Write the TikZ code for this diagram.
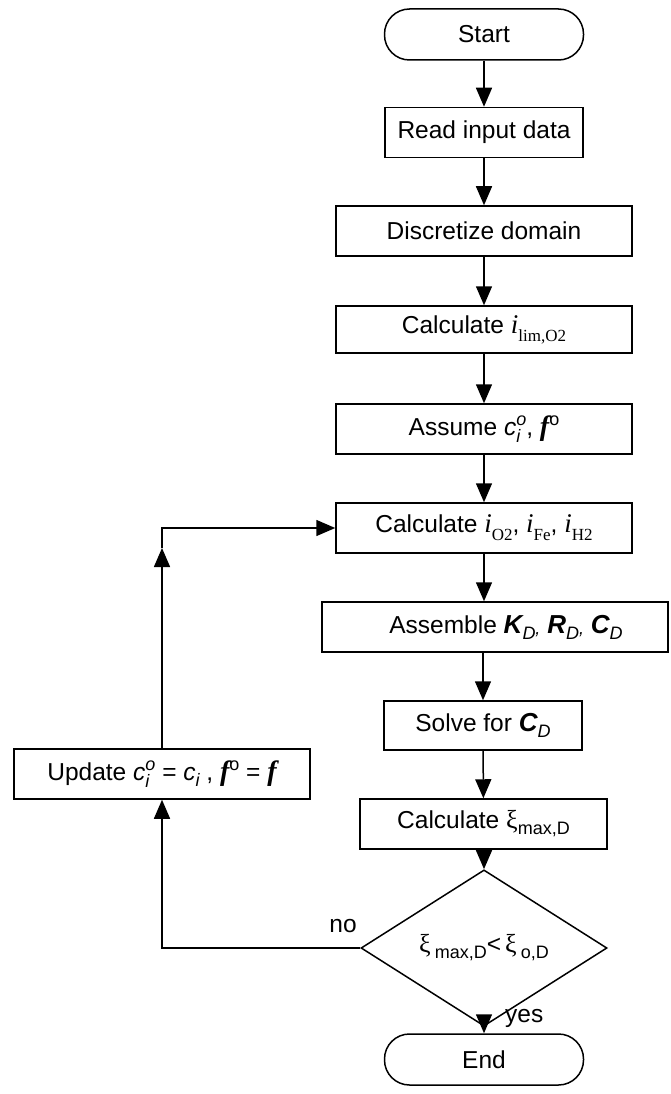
\documentclass[tikz,border=0pt]{standalone}
\usepackage{fontspec}
\setmainfont{Liberation Sans}
\newfontfamily\tms{Liberation Serif}
\usetikzlibrary{shapes.geometric,arrows.meta,calc}
\newcommand{\bi}[1]{{\fontsize{26}{28}\selectfont\bfseries\itshape #1}}
\newcommand{\tmi}[1]{{\fontsize{27}{28}\selectfont\tms\itshape #1}}
\newcommand{\tmbi}[1]{{\fontsize{28}{28}\selectfont\tms\bfseries\itshape #1}}
\newcommand{\sbs}[1]{\raisebox{-6pt}{\fontsize{18}{18}\selectfont #1}}
\newcommand{\sbt}[1]{\raisebox{-8pt}{\fontsize{17}{17}\selectfont\tms #1}}
\newcommand{\sps}[1]{\raisebox{10pt}{\fontsize{18}{18}\selectfont #1}}
\newcommand{\stk}[2]{\rlap{\raisebox{-7pt}{\fontsize{18}{18}\selectfont\itshape #1}}\raisebox{10pt}{\fontsize{18}{18}\selectfont\itshape #2}}
\newcommand{\xii}{{\fontsize{26}{28}\selectfont\tms ξ}}
\begin{document}
\begin{tikzpicture}[x=1pt,y=-1pt,
  box/.style={draw, line width=1.5pt, inner sep=0pt, minimum height=50pt, font=\fontsize{24.5}{28}\selectfont},
  term/.style={box, rounded corners=25pt},
  arr/.style={line width=1.5pt, -{Triangle[length=19pt,width=16pt]}},
  lbl/.style={font=\fontsize{24.5}{28}\selectfont, inner sep=0pt}]
\useasboundingbox (0,0) rectangle (670,1094);
\node[term, minimum width=199pt, minimum height=51pt] (start) at (484,34.5) {Start};
\node[box, minimum width=198pt] (read) at (484,132.5) {Read input data};
\node[box, minimum width=296pt] (disc) at (484,231) {Discretize domain};
\node[box, minimum width=296pt, minimum height=47pt] (lim) at (484,329.5) {Calculate \tmi{i}\sbt{lim,O2}};
\node[box, minimum width=296pt] (assume) at (484,429) {Assume \textit{c}\stk{i}{o}, \tmbi{f}\sps{o}};
\node[box, minimum width=296pt] (io2) at (484,528) {Calculate \tmi{i}\sbt{O2}, \tmi{i}\sbt{Fe}, \tmi{i}\sbt{H2}};
\node[box, minimum width=346pt] (asm) at (495,627) {\hspace*{22pt}Assemble \bi{K}\sbs{\itshape D\raisebox{5pt}{,}} \bi{R}\sbs{\itshape D\raisebox{5pt}{,}} \bi{C}\sbs{\itshape D}};
\node[box, minimum width=198pt, minimum height=49pt] (solve) at (483,725.5) {Solve for \bi{C}\sbs{\itshape D}};
\node[box, minimum width=247pt] (xi) at (483.5,824) {Calculate \xii\sbs{max,D}};
\node[draw, diamond, line width=1.5pt, inner sep=0pt, minimum width=246pt, minimum height=100pt, font=\fontsize{24.5}{28}\selectfont] (dia) at (484,948) {\xii\,\sbs{max,D}<\,\xii\,\sbs{o,D}};
\node[term, minimum width=199pt, minimum height=51pt] (end) at (484,1059.5) {End};
\node[box, minimum width=296pt] (upd) at (162,774) {Update \textit{c}\stk{i}{o} = \textit{c}\sbs{\itshape i} , \tmbi{f}\sps{o} = \tmbi{f}};
\coordinate (c1) at (162,948);
\coordinate (c2) at (162,528);
\coordinate (c2a) at (162,548);
\draw[arr] (start) -- (read);
\draw[arr] (read) -- (disc);
\draw[arr] (disc) -- (lim);
\draw[arr] (lim) -- (assume);
\draw[arr] (assume) -- (io2);
\draw[arr] (io2.south) -- (io2.south |- asm.north);
\draw[arr] (solve.north |- asm.south) -- (solve.north);
\draw[arr] (solve) -- (xi);
\draw[arr] (xi.south -| dia.north) -- (dia.north);
\draw[arr] (dia) -- (end);
\node[lbl, anchor=west] (yes) at (505,1018) {yes};
\draw[arr] (dia.west) -- (c1) -- (upd.south);
\node[lbl] (no) at (343,926) {no};
\draw[arr] (upd.north) -- (c2a);
\draw[arr] (c2a) -- (c2) -- (io2.west);
\end{tikzpicture}
\end{document}
